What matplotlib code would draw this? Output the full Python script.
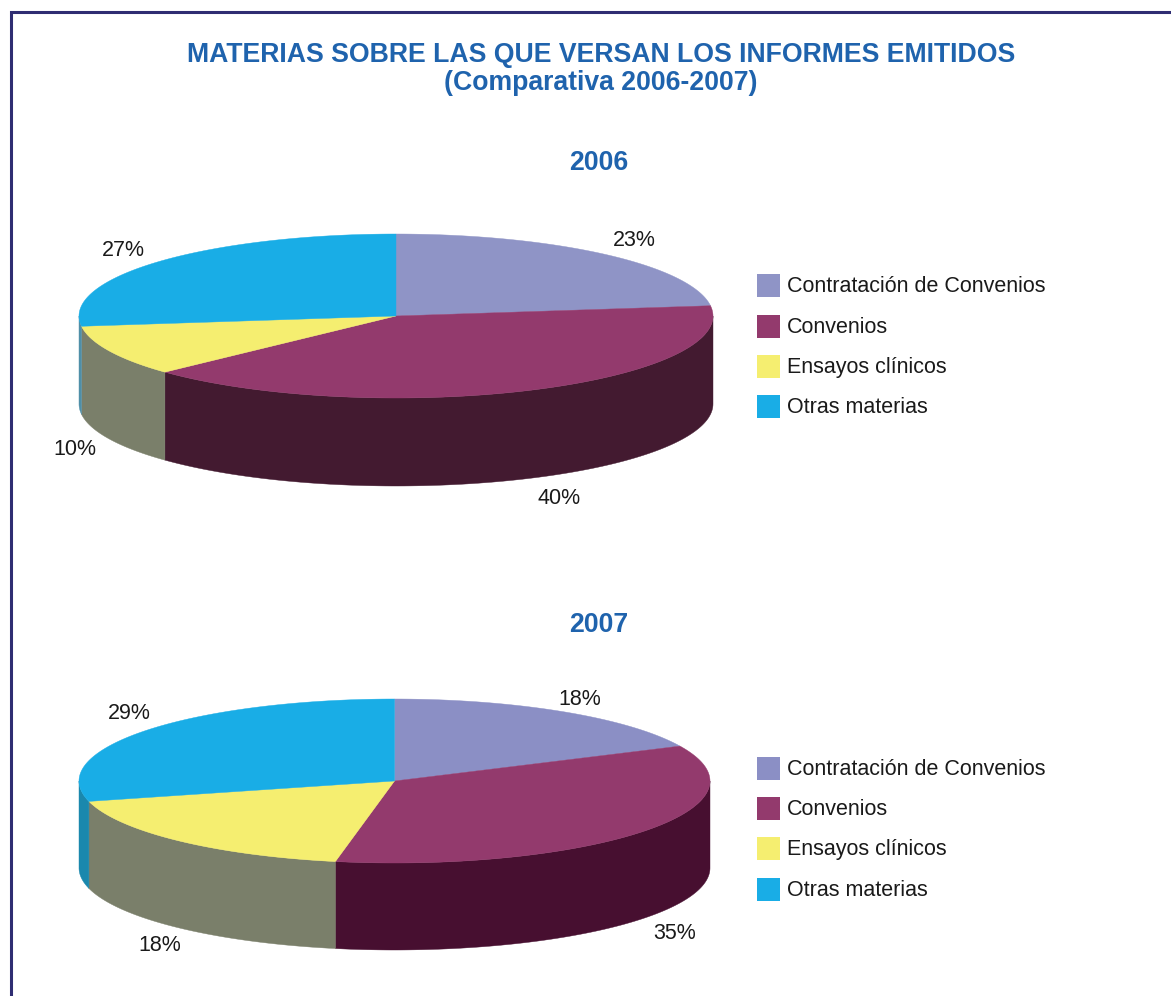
import numpy as np
import matplotlib
matplotlib.use("Agg")
import matplotlib.pyplot as plt
from matplotlib.patches import Polygon, Rectangle

plt.rcParams['font.family'] = ['Liberation Sans', 'DejaVu Sans']

TITLE = ["MATERIAS SOBRE LAS QUE VERSAN LOS INFORMES EMITIDOS", "(Comparativa 2006-2007)"]
categories = ["Contratación de Convenios", "Convenios", "Ensayos clínicos", "Otras materias"]
years = ["2006", "2007"]
values_2006 = [23, 40, 10, 27]
values_2007 = [18, 35, 18, 29]
top_colors_2006 = ["#8f94c6", "#933a6d", "#f5ee70", "#19ade6"]
top_colors_2007 = ["#8b8fc5", "#933a6d", "#f5ee70", "#19ade6"]
side_colors_2006 = ["#5f6388", "#431a30", "#7a7f6a", "#4f8fa8"]
side_colors_2007 = ["#5f6388", "#470f30", "#7a7f6a", "#1a88ad"]

BLUE = "#1f63ad"
TXT = "#1a1a1a"

fig = plt.figure(figsize=(11.71, 9.96), dpi=100)
ax = fig.add_axes([0, 0, 1, 1])
ax.set_xlim(0, 1171)
ax.set_ylim(996, 0)
ax.axis("off")


def pie3d(values, tops, sides, cx, cy, rx, ry, depth, label_pos):
    total = sum(values)
    edges = 90 - np.cumsum([0] + list(values)) * 360.0 / total
    # sides (only the front half of the rim is visible)
    for i in range(len(values)):
        a0, a1 = edges[i], edges[i + 1]
        lo = max(a1, -180)
        hi = min(a0, 0)
        if hi > lo:
            t = np.radians(np.linspace(hi, lo, 120))
            x = cx + rx * np.cos(t)
            y = cy - ry * np.sin(t)
            pts = np.r_[np.c_[x, y], np.c_[x[::-1], y[::-1] + depth]]
            ax.add_patch(Polygon(pts, closed=True, fc=sides[i], ec=sides[i], lw=0.3, zorder=2))
    # tops
    for i, v in enumerate(values):
        t = np.radians(np.linspace(edges[i], edges[i + 1], 200))
        x = np.r_[cx, cx + rx * np.cos(t)]
        y = np.r_[cy, cy - ry * np.sin(t)]
        ax.add_patch(Polygon(np.c_[x, y], closed=True, fc=tops[i], ec=tops[i], lw=0.3, zorder=3))
    for v, (lx, ly) in zip(values, label_pos):
        ax.text(lx, ly, f"{v}%", fontsize=15.5, color=TXT, ha="center", va="center", zorder=5)


def legend(x, y_list, tops):
    for name, col, y in zip(categories, tops, y_list):
        ax.add_patch(Rectangle((x, y - 11.5), 23, 23, fc=col, ec="none", zorder=3))
        ax.text(x + 30, y + 0.7, name, fontsize=15.5, color=TXT, ha="left", va="center", zorder=5)


# frame, running off the page on the right and at the bottom
ax.plot([10.5, 10.5, 1171], [996, 11.7, 11.7], color="#2f2d72", lw=2.2, solid_joinstyle="miter", zorder=1)

for s, (x, y) in zip(TITLE + years, [(601.5, 55), (601, 83), (598.5, 162.5), (598.5, 624.5)]):
    ax.text(x, y, s, fontsize=19.2, fontweight="bold", color=BLUE, ha="center", va="center")

pie3d(values_2006, top_colors_2006, side_colors_2006, 396, 316, 317, 82, 88,
      [(634.5, 240.5), (559, 498), (74.5, 449.5), (123.5, 250.5)])
pie3d(values_2007, top_colors_2007, side_colors_2007, 394.5, 781, 315.5, 82, 87,
      [(580, 699.5), (674.5, 933.5), (160, 945.5), (129.5, 713.5)])

legend(757, [285.5, 326.5, 366.5, 406.5], top_colors_2006)
legend(757, [768.5, 808.5, 848.5, 889.5], top_colors_2007)

fig.savefig("out.png", dpi=100, facecolor="white")
